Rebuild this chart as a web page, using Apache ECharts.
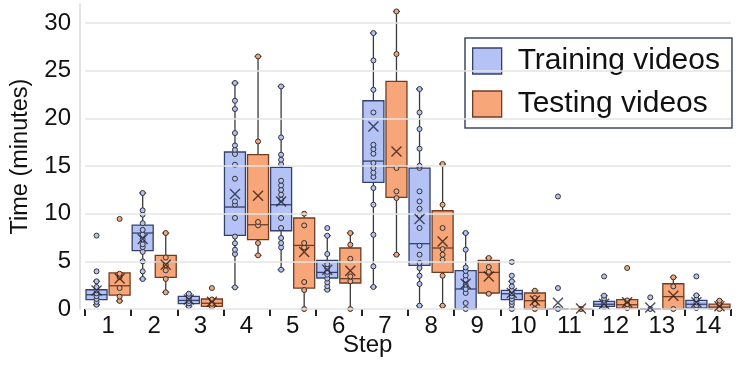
<!DOCTYPE html>
<html><head><meta charset="utf-8">
<script src="https://cdn.jsdelivr.net/npm/echarts@6/dist/echarts.min.js"></script>
<style>html,body{margin:0;padding:0;background:#fff}#c{width:744px;height:366px}</style>
</head><body><div id="c"></div>
<script>
const FONT = '"Liberation Sans", Arial, sans-serif';
const steps = ['1','2','3','4','5','6','7','8','9','10','11','12','13','14'];
const yTicks = [0, 5, 10, 15, 20, 25, 30];

// Training videos
const trainMin  = [0.45, 3.15, 0.30, 2.27, 4.12, 2.02, 2.31, 0.35, 0, 0, 0, 0.20, 0, 0.10];
const trainQ1   = [0.98, 6.12, 0.56, 7.72, 8.21, 3.25, 13.28, 4.57, 0, 0.98, 0, 0.28, 0, 0.10];
const trainMed  = [1.50, 7.97, 0.90, 10.70, 10.94, 3.84, 15.52, 6.85, 2.10, 1.60, 0, 0.50, 0, 0.50];
const trainQ3   = [2.02, 8.81, 1.32, 16.47, 14.86, 5.10, 21.85, 14.79, 4.02, 1.95, 0, 0.80, 0, 0.90];
const trainMax  = [2.90, 12.17, 1.60, 23.71, 23.35, 7.69, 28.95, 23.08, 7.97, 2.90, 0, 1.40, 0, 1.43];
const trainMean = [1.95, 7.34, 1.00, 12.06, 11.29, 4.12, 19.15, 9.44, 2.65, 1.68, 0.65, 0.55, 0.15, 0.70];
const trainPoints = [
  [0.45, 0.75, 1.05, 1.35, 1.65, 1.95, 2.3, 2.9, 3.95, 7.7],
  [3.15, 3.95, 5.0, 6.0, 6.5, 6.8, 7.3, 7.8, 8.3, 9.0, 9.9, 10.35, 12.17],
  [0.3, 0.6, 0.85, 1.1, 1.35, 1.6],
  [2.27, 5.77, 6.22, 6.9, 7.6, 9.55, 10.94, 11.29, 13.67, 15.14, 16.26, 16.7, 17.16, 18.46, 20.98, 21.85, 23.71],
  [4.12, 6.46, 6.92, 7.45, 8.5, 9.55, 11.47, 12.0, 12.5, 12.97, 13.46, 15.2, 15.66, 16.19, 18.0, 23.35],
  [2.02, 2.4, 2.8, 3.2, 3.6, 3.9, 4.3, 4.7, 5.77, 7.69, 8.49],
  [2.31, 4.47, 7.79, 10.94, 12.69, 13.85, 14.3, 14.79, 15.31, 16.29, 16.78, 17.23, 20.62, 23.0, 26.08, 28.95],
  [0.35, 2.62, 3.49, 4.3, 4.83, 5.7, 6.64, 8.5, 9.79, 10.52, 11.29, 12.34, 14.8, 15.03, 16.82, 18.88, 20.62, 23.08],
  [0, 0.63, 1.68, 2.1, 2.55, 3.07, 3.52, 4.0, 4.36, 6.22, 7.97],
  [0, 0.45, 0.75, 1.05, 1.35, 1.65, 1.95, 2.37, 2.9, 3.49, 4.93],
  [0, 2.2, 11.81],
  [0.2, 0.45, 0.7, 1.1, 1.4, 3.42],
  [0, 1.22],
  [0.1, 0.4, 0.7, 1.0, 1.43, 3.42]
];

// Testing videos
const testMin  = [0.85, 1.75, 0.25, 5.63, 0, 0, 5.70, 0.35, 1.60, 0, 0, 0.10, 0, 0];
const testQ1   = [1.45, 3.32, 0.28, 7.27, 2.20, 2.73, 11.71, 3.84, 1.68, 0, 0, 0.10, 0, 0];
const testMed  = [2.44, 4.90, 0.60, 8.84, 6.67, 3.18, 14.90, 6.40, 3.84, 0.87, 0, 0.45, 1.30, 0.20];
const testQ3   = [3.78, 5.63, 1.05, 16.19, 9.55, 6.40, 23.88, 10.31, 5.10, 1.68, 0, 0.98, 2.65, 0.52];
const testMax  = [3.78, 7.97, 1.05, 26.50, 10.00, 7.97, 31.22, 15.21, 5.35, 1.92, 0, 0.98, 3.32, 0.87];
const testMean = [3.20, 4.65, 0.75, 11.88, 5.98, 4.02, 16.53, 7.09, 3.42, 0.90, 0.05, 0.70, 1.40, 0.30];
const testPoints = [
  [0.85, 1.3, 2.2, 3.35, 3.7, 9.45],
  [1.75, 3.15, 4.05, 4.6, 5.4, 7.97],
  [0.25, 0.55, 1.0, 2.2],
  [5.63, 6.92, 8.77, 9.13, 17.58, 26.5],
  [0, 1.99, 2.83, 6.46, 6.92, 8.77, 10.0],
  [0, 2.9, 3.42, 5.27, 6.74, 7.97],
  [5.7, 11.64, 12.34, 14.79, 26.75, 31.22],
  [0.35, 3.49, 5.17, 5.7, 6.29, 8.5, 10.94, 15.21],
  [1.6, 3.9, 4.4, 5.35],
  [0, 0.56, 1.15, 1.92],
  [0],
  [0.1, 0.5, 0.9, 4.3],
  [0, 2.37, 3.32],
  [0, 0.5, 0.87]
];

const BLUE = '#b5c2f6', BLUE_S = '#34416b';
const ORANGE = '#f7a679', ORANGE_S = '#6f3d24';

const slots = [];
steps.forEach(s => { slots.push(s + 'a', s + 'b'); });

function boxData(off, mn, q1, md, q3, mx) {
  return steps.map((_, i) => [2 * i + off, mn[i], q1[i], md[i], q3[i], mx[i]]);
}
function pointData(off, pts) {
  const out = [];
  pts.forEach((arr, i) => arr.forEach(v => out.push([2 * i + off, v])));
  return out;
}
function meanData(off, m) { return m.map((v, i) => [2 * i + off, v]); }

function makeRender(fill, stroke) {
  return function (params, api) {
    const x = api.value(0);
    const pMin = api.coord([x, api.value(1)]);
    const pQ1 = api.coord([x, api.value(2)]);
    const pMed = api.coord([x, api.value(3)]);
    const pQ3 = api.coord([x, api.value(4)]);
    const pMax = api.coord([x, api.value(5)]);
    const band = api.size([1, 0])[0];
    const bw = band * 0.91;
    const cw = 7;
    const cx = pMed[0];
    const ws = { stroke: '#3a3a3a', lineWidth: 1.3 };
    return {
      type: 'group', children: [
        { type: 'line', shape: { x1: cx, y1: pMin[1], x2: cx, y2: pMax[1] }, style: ws },
        { type: 'line', shape: { x1: cx - cw / 2, y1: pMax[1], x2: cx + cw / 2, y2: pMax[1] }, style: ws },
        { type: 'line', shape: { x1: cx - cw / 2, y1: pMin[1], x2: cx + cw / 2, y2: pMin[1] }, style: ws },
        { type: 'rect', shape: { x: cx - bw / 2, y: pQ3[1], width: bw, height: pQ1[1] - pQ3[1] }, style: { fill: fill, stroke: stroke, lineWidth: 1.3 } },
        { type: 'line', shape: { x1: cx - bw / 2, y1: pMed[1], x2: cx + bw / 2, y2: pMed[1] }, style: { stroke: stroke, lineWidth: 1.3 } }
      ]
    };
  };
}

const gridLines = yTicks.map(v => ({ yAxis: v }));

const chart = echarts.init(document.getElementById('c'));
chart.setOption({
  animation: false,
  backgroundColor: '#fff',
  textStyle: { fontFamily: FONT },
  grid: { left: 85, right: 13, top: 4, bottom: 57 },
  xAxis: [
    { type: 'category', data: slots, show: false, boundaryGap: true },
    {
      type: 'category', data: steps, position: 'bottom', boundaryGap: true,
      axisLine: { show: false },
      axisTick: { show: true, length: 7, lineStyle: { color: '#222', width: 2 } },
      axisLabel: { fontSize: 24, color: '#111', margin: 5, fontFamily: FONT },
      splitLine: { show: false }
    }
  ],
  yAxis: {
    type: 'value', min: 0, max: 32, interval: 5, offset: 5,
    axisLine: { show: true, lineStyle: { color: '#d9d9d9', width: 1.5 } },
    axisTick: { show: false },
    splitLine: { show: false },
    axisLabel: { fontSize: 24, color: '#111', margin: 9, fontFamily: FONT, showMaxLabel: false },
    name: 'Time (minutes)', nameLocation: 'middle', nameRotate: 90, nameGap: 47,
    nameTextStyle: { fontSize: 23.5, color: '#111', fontFamily: FONT }
  },
  legend: {
    orient: 'vertical', left: 465, top: 38, padding: [8, 12, 9, 7],
    itemWidth: 29, itemHeight: 26, itemGap: 13,
    borderColor: '#3e4868', borderWidth: 1.5, backgroundColor: '#fff',
    selectedMode: false,
    textStyle: { fontSize: 30, color: '#111', fontFamily: FONT, padding: [0, 0, 0, 11] },
    data: [
      { name: 'Training videos', icon: 'rect', itemStyle: { color: BLUE, borderColor: BLUE_S, borderWidth: 1.3 } },
      { name: 'Testing videos', icon: 'rect', itemStyle: { color: ORANGE, borderColor: ORANGE_S, borderWidth: 1.3 } }
    ]
  },
  graphic: [
    { type: 'text', left: 343, top: 333, style: { text: 'Step', fontSize: 24, fill: '#111', fontFamily: FONT } }
  ],
  series: [
    {
      name: 'grid', type: 'scatter', data: [], xAxisIndex: 0, silent: true,
      markLine: { silent: true, symbol: ['none', 'none'], label: { show: false }, lineStyle: { color: '#e4e4e4', width: 1.5, type: 'solid' }, data: gridLines }
    },
    {
      name: 'Training videos', type: 'custom', xAxisIndex: 0, z: 3,
      renderItem: makeRender(BLUE, BLUE_S), encode: { x: 0, y: [1, 2, 3, 4, 5] },
      itemStyle: { color: BLUE },
      data: boxData(0, trainMin, trainQ1, trainMed, trainQ3, trainMax)
    },
    {
      name: 'Testing videos', type: 'custom', xAxisIndex: 0, z: 3,
      renderItem: makeRender(ORANGE, ORANGE_S), encode: { x: 0, y: [1, 2, 3, 4, 5] },
      itemStyle: { color: ORANGE },
      data: boxData(1, testMin, testQ1, testMed, testQ3, testMax)
    },
    {
      name: 'Training videos', type: 'scatter', xAxisIndex: 0, z: 4, symbol: 'circle', symbolSize: 5,
      itemStyle: { color: BLUE, borderColor: '#333', borderWidth: 1, opacity: 1 },
      data: pointData(0, trainPoints)
    },
    {
      name: 'Testing videos', type: 'scatter', xAxisIndex: 0, z: 4, symbol: 'circle', symbolSize: 5,
      itemStyle: { color: ORANGE, borderColor: '#333', borderWidth: 1, opacity: 1 },
      data: pointData(1, testPoints)
    },
    {
      name: 'Training videos', type: 'scatter', xAxisIndex: 0, z: 5, symbol: 'path://M0,0L10,10M0,10L10,0', symbolSize: 10,
      itemStyle: { color: 'none', borderColor: '#1f2540', borderWidth: 1.4 },
      data: meanData(0, trainMean)
    },
    {
      name: 'Testing videos', type: 'scatter', xAxisIndex: 0, z: 5, symbol: 'path://M0,0L10,10M0,10L10,0', symbolSize: 10,
      itemStyle: { color: 'none', borderColor: '#3a1a0c', borderWidth: 1.4 },
      data: meanData(1, testMean)
    }
  ]
});
</script>
</body></html>
